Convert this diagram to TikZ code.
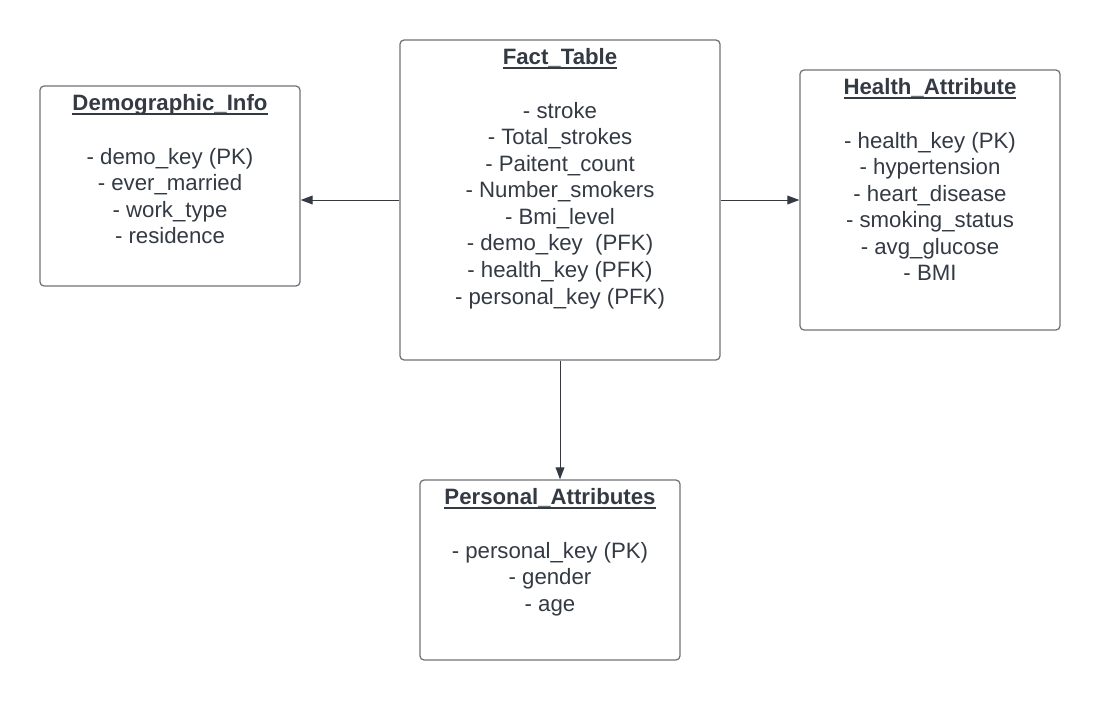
\documentclass[tikz,border=0pt]{standalone}
\usepackage{fontspec}
\setmainfont{Liberation Sans}
\usetikzlibrary{arrows.meta,positioning}
\definecolor{ink}{HTML}{333A44}
\definecolor{frame}{HTML}{6E7277}
\newcommand{\tabtitle}[1]{\setbox0\hbox{\bfseries #1}\rlap{\rule[-2.6pt]{\wd0}{1.1pt}}\box0}

\begin{document}
\begin{tikzpicture}[x=0.025cm, y=-0.025cm,
    tablebox/.style={draw=frame, line width=0.9pt, rounded corners=3pt, minimum width=6.5cm},
    fields/.style={align=center, text=ink, inner sep=0pt, font=\fontsize{15.8}{18.9}\selectfont},
    link/.style={-{Triangle[length=3mm,width=2.2mm]}, draw=ink, line width=0.7pt}]
    \useasboundingbox (0,0) rectangle (1100,700);

    \node[tablebox, minimum width=8cm, minimum height=8cm] (fact) at (560,200) {};
    \node[tablebox, minimum height=5cm] (demo) at (170,186) {};
    \node[tablebox, minimum height=6.5cm] (health) at (930,200) {};
    \node[tablebox, minimum height=4.5cm] (pers) at (550,570) {};

    \node[fields, below = 0.23cm of fact.north] (facttxt) {\tabtitle{Fact\_Table}\\[18.9pt]
        - stroke\\ - Total\_strokes\\ - Paitent\_count\\ - Number\_smokers\\ - Bmi\_level\\
        - demo\_key\ \ (PFK)\\ - health\_key (PFK)\\ - personal\_key (PFK)};
    \node[fields, below = 0.23cm of demo.north] (demotxt) {\tabtitle{Demographic\_Info}\\[18.9pt]
        - demo\_key (PK)\\ - ever\_married\\ - work\_type\\ - residence};
    \node[fields, below = 0.23cm of health.north] (healthtxt) {\tabtitle{Health\_Attribute}\\[18.9pt]
        - health\_key (PK)\\ - hypertension\\ - heart\_disease\\ - smoking\_status\\ - avg\_glucose\\ - BMI};
    \node[fields, below = 0.23cm of pers.north] (perstxt) {\tabtitle{Personal\_Attributes}\\[18.9pt]
        - personal\_key (PK)\\ - gender\\ - age};

    \draw[link] (fact.west) -- (fact.west -| demo.east);
    \draw[link] (fact.east) -- (fact.east -| health.west);
    \draw[link] (fact.south) -- (fact.south |- pers.north);
\end{tikzpicture}
\end{document}
